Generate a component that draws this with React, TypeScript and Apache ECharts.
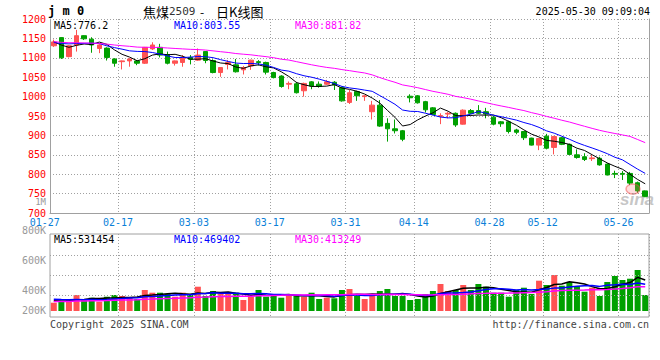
import React, { useEffect, useRef } from 'react';
import * as echarts from 'echarts';

// ---- data ----
const dates = [
  '01-27', '02-05', '02-06', '02-07', '02-10', '02-11', '02-12', '02-13', '02-14',
  '02-17', '02-18', '02-19', '02-20', '02-21', '02-24', '02-25', '02-26', '02-27', '02-28',
  '03-03', '03-04', '03-05', '03-06', '03-07', '03-10', '03-11', '03-12', '03-13', '03-14',
  '03-17', '03-18', '03-19', '03-20', '03-21', '03-24', '03-25', '03-26', '03-27', '03-28',
  '03-31', '04-01', '04-02', '04-03', '04-07', '04-08', '04-09', '04-10', '04-11',
  '04-14', '04-15', '04-16', '04-17', '04-18', '04-21', '04-22', '04-23', '04-24', '04-25',
  '04-28', '04-29', '04-30', '05-06', '05-07', '05-08', '05-09',
  '05-12', '05-13', '05-14', '05-15', '05-16', '05-19', '05-20', '05-21', '05-22', '05-23',
  '05-26', '05-27', '05-28', '05-29',
];
const tickLabels = ['01-27', '02-17', '03-03', '03-17', '03-31', '04-14', '04-28', '05-12', '05-26'];

const opens = [
  1131, 1152, 1103, 1133, 1157, 1148, 1124, 1125, 1097, 1090, 1092, 1092, 1086, 1123, 1127, 1108, 1086, 1088, 1101, 1094,
  1116, 1093, 1062, 1083, 1082, 1069, 1079, 1090, 1088, 1062, 1053, 1032, 1033, 1015, 1038, 1032, 1032, 1037, 1023, 985,
  1013, 1000, 961, 978, 931, 917, 912, 1001, 1002, 987, 971, 949, 955, 957, 929, 964, 964, 961, 947, 935,
  935, 914, 910, 893, 875, 898, 869, 894, 877, 850, 845, 840, 841, 826, 802, 802, 802, 778, 757,
];
const closes = [
  1141, 1100, 1131, 1157, 1149, 1133, 1133, 1101, 1086, 1092, 1097, 1086, 1127, 1133, 1107, 1086, 1092, 1101, 1096, 1107,
  1093, 1062, 1075, 1088, 1064, 1075, 1094, 1088, 1063, 1049, 1026, 1034, 1010, 1034, 1027, 1026, 1038, 1030, 989, 1010,
  1002, 1002, 978, 924, 917, 912, 890, 997, 984, 966, 954, 951, 957, 927, 965, 957, 957, 955, 929, 930,
  910, 908, 894, 875, 892, 867, 897, 877, 851, 843, 838, 842, 824, 798, 800, 800, 777, 757, 742,
];
const lows = [
  1128, 1097, 1101, 1116, 1146, 1113, 1112, 1093, 1077, 1070, 1077, 1081, 1084, 1120, 1101, 1083, 1080, 1077, 1083, 1092,
  1086, 1060, 1051, 1070, 1062, 1057, 1069, 1080, 1057, 1047, 1023, 1019, 1008, 1000, 1019, 1023, 1030, 1017, 987, 981,
  989, 989, 941, 922, 884, 905, 885, 985, 982, 959, 952, 929, 944, 922, 928, 955, 955, 944, 926, 922,
  905, 903, 888, 874, 862, 864, 851, 875, 849, 840, 834, 834, 822, 797, 790, 785, 772, 752, 741,
];
const highs = [
  1147, 1153, 1133, 1172, 1158, 1153, 1135, 1127, 1099, 1093, 1099, 1094, 1128, 1140, 1136, 1116, 1093, 1107, 1107, 1124,
  1117, 1096, 1076, 1094, 1097, 1079, 1095, 1094, 1090, 1064, 1055, 1039, 1038, 1036, 1040, 1039, 1043, 1040, 1026, 1017,
  1015, 1004, 989, 991, 944, 941, 914, 1006, 1004, 989, 973, 957, 960, 959, 967, 968, 978, 971, 950, 937,
  938, 917, 911, 894, 893, 904, 899, 896, 879, 864, 854, 850, 845, 828, 809, 808, 806, 781, 758,
];
const volumes = [
  141000, 158000, 204000, 272000, 204000, 226000, 158000, 243000, 272000, 255000,
  226000, 204000, 357000, 311000, 311000, 289000, 243000, 311000, 272000, 413000,
  255000, 340000, 289000, 311000, 311000, 187000, 243000, 357000, 243000, 289000,
  226000, 289000, 255000, 243000, 311000, 204000, 226000, 216000, 357000, 374000,
  255000, 204000, 255000, 340000, 374000, 255000, 255000, 187000, 204000, 289000,
  340000, 459000, 340000, 357000, 442000, 357000, 459000, 413000, 311000, 311000,
  243000, 357000, 396000, 289000, 515000, 442000, 612000, 430000, 493000, 425000,
  328000, 396000, 255000, 493000, 595000, 527000, 549000, 697000, 272000,
];
// estimated closes / volumes of the 29 sessions before 01-27 (they feed the moving averages)
const prevCloses = [
  1150, 1162, 1158, 1165, 1152, 1148, 1160, 1153, 1150, 1142, 1146, 1144, 1132, 1126, 1120,
  1128, 1135, 1130, 1124, 1130, 1125, 1140, 1148, 1145, 1128, 1143, 1160, 1131, 1132,
];
const prevVolumes = [
  120000, 135000, 128000, 142000, 150000, 118000, 132000, 145000, 160000, 138000,
  125000, 148000, 155000, 140000, 136000, 152000, 147000, 158000, 139000, 142000,
  210000, 235000, 220000, 228000, 222000, 190000, 176000, 185000, 181000,
];
const priceTicks = { min: 700, max: 1200, step: 50 };
const volAxis = { min: -102000, max: 1309000 };
const volGridValues = [260000, 600000, 940000];
const volTickLabels = [
  { t: '800K', y: 230.5 },
  { t: '600K', y: 260.7 },
  { t: '400K', y: 290.7 },
  { t: '200K', y: 310.7 },
];
const priceMA = { ma5: '776.2', ma10: '803.55', ma30: '881.82' };
const volMA = { ma5: '531454', ma10: '469402', ma30: '413249' };

const RED = '#ff5252';
const GREEN = '#00a000';
const GRID = '#a0a0a0';
const MONO = '"DejaVu Sans Mono", monospace';

function movingAverage(prev: number[], vals: number[], n: number) {
  const all = prev.concat(vals);
  return vals.map((_, i) => {
    const end = prev.length + i;
    let s = 0;
    for (let k = end - n + 1; k <= end; k++) s += all[k];
    return +(s / n).toFixed(2);
  });
}

const tickIdx = tickLabels.map((t) => dates.indexOf(t));
const tickSet = new Set(tickIdx);
const splitSet = new Set(tickIdx.filter((i) => i > 0));

function txt(text: string, x: number, y: number, fill: string, font: string, align = 'left') {
  return {
    type: 'text',
    x,
    y,
    silent: true,
    z: 100,
    style: { text, fill, font, textAlign: align, textVerticalAlign: 'middle' },
  };
}

function buildOption() {
  const ohlc = dates.map((_, i) => [opens[i], closes[i], lows[i], highs[i]]);
  const volData = volumes.map((v, i) => ({
    value: v,
    itemStyle: { color: closes[i] >= opens[i] ? RED : GREEN },
  }));
  const splitLine = {
    show: true,
    interval: (idx: number) => splitSet.has(idx),
    lineStyle: { color: GRID, type: [1, 2], width: 1 },
  };
  const lineSeries = (name: string, data: number[], color: string, xi: number, yi: number, w: number) => ({
    name,
    type: 'line',
    xAxisIndex: xi,
    yAxisIndex: yi,
    data,
    showSymbol: false,
    symbol: 'none',
    silent: true,
    z: 5,
    lineStyle: { color, width: w },
  });
  const labelFont = { color: '#0a7fd8', fontSize: 10, fontFamily: MONO };
  return {
    animation: false,
    backgroundColor: '#ffffff',
    grid: [
      { left: 50, right: 11, top: 19, height: 194 },
      { left: 50, right: 11, top: 234, height: 83, show: true, borderColor: GRID, borderWidth: 1 },
    ],
    xAxis: [
      {
        type: 'category',
        gridIndex: 0,
        data: dates,
        boundaryGap: true,
        axisLine: { show: true, lineStyle: { color: GRID } },
        axisTick: { show: false },
        axisLabel: {
          interval: (idx: number) => tickSet.has(idx),
          margin: 4,
          formatter: (v: string, idx: number) => (idx === 0 ? `{a|${v}}` : `{b|${v}}`),
          rich: {
            a: { ...labelFont, padding: [0, 18, 0, 0] },
            b: { ...labelFont, padding: [0, 8, 0, 0] },
          },
        },
        splitLine,
      },
      {
        type: 'category',
        gridIndex: 1,
        data: dates,
        boundaryGap: true,
        axisLine: { show: false },
        axisTick: { show: false },
        axisLabel: { show: false },
        splitLine,
      },
    ],
    yAxis: [
      {
        type: 'value',
        gridIndex: 0,
        min: priceTicks.min,
        max: priceTicks.max,
        interval: priceTicks.step,
        position: 'left',
        axisLine: { show: true, lineStyle: { color: GRID } },
        axisTick: { show: false },
        axisLabel: {
          color: '#ff0000',
          fontSize: 10,
          fontFamily: MONO,
          margin: 4,
          padding: [0, 0, 4, 0],
          formatter: (v: number) => String(v),
        },
        splitLine: { show: true, lineStyle: { color: GRID, type: [1, 2], width: 1 } },
      },
      {
        type: 'value',
        gridIndex: 0,
        min: priceTicks.min,
        max: priceTicks.max,
        position: 'right',
        axisLine: { show: true, lineStyle: { color: GRID } },
        axisTick: { show: false },
        axisLabel: { show: false },
        splitLine: { show: false },
      },
      {
        type: 'value',
        gridIndex: 1,
        min: volAxis.min,
        max: volAxis.max,
        axisLine: { show: false },
        axisTick: { show: false },
        axisLabel: { show: false },
        splitLine: { show: false },
      },
    ],
    series: [
      {
        type: 'candlestick',
        xAxisIndex: 0,
        yAxisIndex: 0,
        data: ohlc,
        barWidth: 5,
        silent: true,
        itemStyle: { color: RED, color0: GREEN, borderColor: RED, borderColor0: GREEN, borderWidth: 1 },
      },
      lineSeries('MA5', movingAverage(prevCloses, closes, 5), '#000000', 0, 0, 1),
      lineSeries('MA10', movingAverage(prevCloses, closes, 10), '#0000ff', 0, 0, 1),
      lineSeries('MA30', movingAverage(prevCloses, closes, 30), '#ff00ff', 0, 0, 1),
      {
        type: 'bar',
        xAxisIndex: 1,
        yAxisIndex: 2,
        data: volData,
        barWidth: 6,
        silent: true,
        markLine: {
          silent: true,
          symbol: ['none', 'none'],
          label: { show: false },
          lineStyle: { color: GRID, type: [1, 2], width: 1 },
          data: volGridValues.map((v) => ({ yAxis: v })),
        },
      },
      lineSeries('VMA5', movingAverage(prevVolumes, volumes, 5), '#000000', 1, 2, 1.5),
      lineSeries('VMA10', movingAverage(prevVolumes, volumes, 10), '#0000ff', 1, 2, 1.5),
      lineSeries('VMA30', movingAverage(prevVolumes, volumes, 30), '#ff00ff', 1, 2, 1.5),
    ],
    graphic: [
      txt('j m 0', 48, 11, '#000', `bold 12px ${MONO}`),
      txt('焦煤', 143, 11, '#000', '13px "Noto Sans CJK SC"'),
      txt('2509', 169, 11, '#333', `11px ${MONO}`),
      txt('-', 200, 11, '#000', '12px "Noto Sans CJK SC"'),
      txt('日K线图', 216, 11, '#000', '13px "Noto Sans CJK SC"'),
      txt('2025-05-30 09:09:04', 650, 11, '#000', `10px ${MONO}`, 'right'),
      txt(`MA5:${priceMA.ma5}`, 54, 25, '#000', `10px ${MONO}`),
      txt(`MA10:${priceMA.ma10}`, 174, 25, '#0000ff', `10px ${MONO}`),
      txt(`MA30:${priceMA.ma30}`, 295, 25, '#ff00ff', `10px ${MONO}`),
      txt('1M', 46, 202, '#999', `9px ${MONO}`, 'right'),
      ...volTickLabels.map((l) => txt(l.t, 46, l.y, '#999', `10px ${MONO}`, 'right')),
      txt(`MA5:${volMA.ma5}`, 54, 239.5, '#000', `10px ${MONO}`),
      txt(`MA10:${volMA.ma10}`, 174, 239.5, '#0000ff', `10px ${MONO}`),
      txt(`MA30:${volMA.ma30}`, 295, 239.5, '#ff00ff', `10px ${MONO}`),
      txt('Copyright 2025 SINA.COM', 50, 324, '#444', `10px ${MONO}`),
      txt('http://finance.sina.com.cn', 649, 324, '#444', `10px ${MONO}`, 'right'),
      {
        type: 'ellipse',
        silent: true,
        z: 90,
        shape: { cx: 633, cy: 189, rx: 7, ry: 5 },
        style: { fill: 'rgba(255,120,120,0.25)', stroke: 'rgba(240,80,80,0.5)', lineWidth: 1.5 },
      },
      {
        type: 'text',
        x: 620,
        y: 199,
        silent: true,
        z: 90,
        style: {
          text: 'sina',
          fill: 'rgba(150,150,150,0.55)',
          font: 'italic bold 17px "Liberation Sans"',
          textAlign: 'left',
          textVerticalAlign: 'middle',
        },
      },
    ],
  };
}

export default function App() {
  const ref = useRef<HTMLDivElement>(null);
  useEffect(() => {
    if (!ref.current) return;
    const chart = echarts.init(ref.current, null, { renderer: 'svg' });
    chart.setOption(buildOption() as any);
    return () => chart.dispose();
  }, []);
  return (
    <div
      ref={ref}
      style={{ position: 'absolute', left: 0, top: 0, width: 660, height: 360, background: '#fff' }}
    />
  );
}
